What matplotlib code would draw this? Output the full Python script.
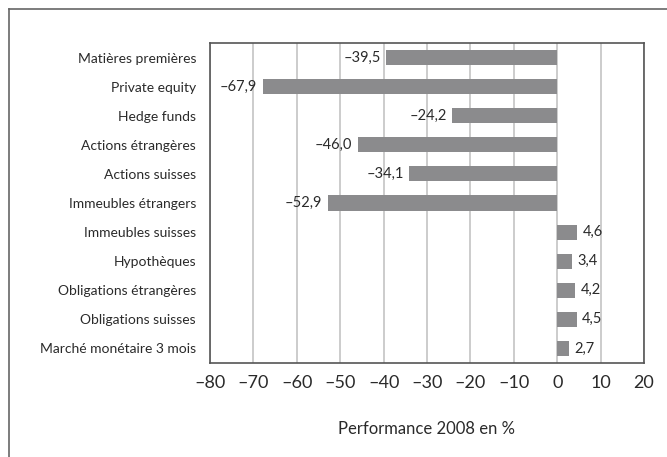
import matplotlib
matplotlib.use("Agg")
import matplotlib.pyplot as plt
from matplotlib.lines import Line2D

categories = ["Matières premières", "Private equity", "Hedge funds", "Actions étrangères",
              "Actions suisses", "Immeubles étrangers", "Immeubles suisses", "Hypothèques",
              "Obligations étrangères", "Obligations suisses", "Marché monétaire 3 mois"]
values = [-39.5, -67.9, -24.2, -46.0, -34.1, -52.9, 4.6, 3.4, 4.2, 4.5, 2.7]
xticks = [-80, -70, -60, -50, -40, -30, -20, -10, 0, 10, 20]

plt.rcParams['font.family'] = ['Lato', 'DejaVu Sans']

W, H = 667, 457
fig = plt.figure(figsize=(W / 100, H / 100), dpi=100)
ax = fig.add_axes([210 / W, 1 - 363 / H, (644 - 210) / W, (363 - 43) / H])

ypos = list(range(len(categories)))[::-1]
ax.barh(ypos, values, height=0.52, color="#8b8b8d", zorder=3)
for y, v in zip(ypos, values):
    txt = f"{v:.1f}".replace(".", ",").replace("-", "\u2013")
    if v < 0:
        ax.text(v - 1.2, y, txt, ha="right", va="center", fontsize=10.5, color="#2a2a2a", zorder=4)
    else:
        ax.text(v + 1.2, y, txt, ha="left", va="center", fontsize=10.5, color="#2a2a2a", zorder=4)

ax.set_xlim(-80, 20)
ax.set_ylim(-0.5, len(categories) - 0.5)
ax.set_yticks(ypos)
ax.set_yticklabels(categories, fontsize=10, color="#2a2a2a")
ax.set_xticks(xticks)
ax.set_xticklabels([str(t).replace("-", "\u2013") for t in xticks], fontsize=13, color="#2a2a2a")
ax.tick_params(axis="both", length=0)
ax.tick_params(axis="y", pad=10)
ax.tick_params(axis="x", pad=9)
ax.xaxis.grid(True, color="#c4c4c4", linewidth=1.2, zorder=0)
ax.set_axisbelow(True)
for s in ax.spines.values():
    s.set_color("#555555")
    s.set_linewidth(1.2)
ax.set_xlabel("Performance 2008 en %", fontsize=12, color="#2a2a2a", labelpad=21)

fig.add_artist(Line2D([9 / W, 9 / W], [0, 1 - 9 / H], transform=fig.transFigure, color="#666666", linewidth=1.2))
fig.add_artist(Line2D([9 / W, 1], [1 - 9 / H, 1 - 9 / H], transform=fig.transFigure, color="#666666", linewidth=1.2))

fig.savefig("out.png", dpi=100)
